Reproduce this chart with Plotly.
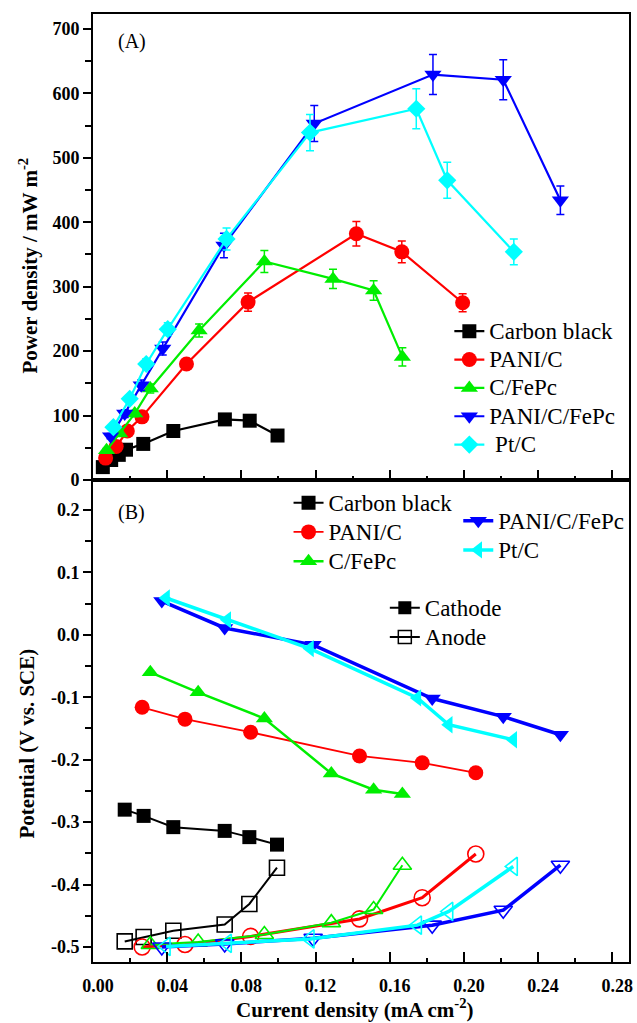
import plotly.graph_objects as go

# ---------------- data: panel A (power density) ----------------
cb_i_A = [0.0053, 0.0098, 0.0139, 0.0178, 0.0271, 0.0433, 0.0711, 0.0845, 0.0995]
cb_p_A = [20, 31, 39, 47, 56, 76, 94, 92, 69]
cb_e_A = [2, 2, 3, 3, 3, 4, 5, 5, 4]

pc_i_A = [0.0068, 0.0125, 0.0185, 0.0264, 0.0504, 0.0836, 0.142, 0.1665, 0.1993]
pc_p_A = [34, 52, 76, 98, 180, 276, 382, 354, 275]
pc_e_A = [3, 4, 5, 6, 8, 14, 19, 17, 14]

cf_i_A = [0.0073, 0.0144, 0.0225, 0.0309, 0.0572, 0.0924, 0.1294, 0.1513, 0.1668]
cf_p_A = [46, 72, 103, 142, 232, 339, 312, 294, 191]
cf_e_A = [3, 4, 5, 7, 10, 17, 15, 15, 14]

pcf_i_A = [0.0095, 0.0171, 0.026, 0.0376, 0.0706, 0.1193, 0.1833, 0.2212, 0.252]
pcf_p_A = [68, 103, 147, 204, 364, 553, 629, 621, 434]
pcf_e_A = [4, 6, 8, 10, 19, 28, 31, 31, 22]

pt_i_A = [0.011, 0.0198, 0.0287, 0.0403, 0.072, 0.117, 0.1743, 0.191, 0.2269]
pt_p_A = [82, 126, 180, 234, 374, 539, 576, 465, 354]
pt_e_A = [4, 6, 8, 10, 17, 28, 31, 28, 20]

# ---------------- data: panel B (electrode potentials) ----------------
cb_i_B = [0.0171, 0.0273, 0.0433, 0.071, 0.0843, 0.0992]
cb_cat = [-0.280, -0.290, -0.308, -0.314, -0.324, -0.336]
cb_an = [-0.491, -0.484, -0.474, -0.464, -0.431, -0.373]

pc_i_B = [0.0265, 0.0496, 0.085, 0.1437, 0.1775, 0.2064]
pc_cat = [-0.116, -0.135, -0.156, -0.194, -0.205, -0.221]
pc_an = [-0.500, -0.496, -0.483, -0.455, -0.421, -0.351]

cf_i_B = [0.0309, 0.0567, 0.0924, 0.1285, 0.1513, 0.1668]
cf_cat = [-0.060, -0.092, -0.134, -0.222, -0.248, -0.255]
cf_an = [-0.496, -0.492, -0.480, -0.461, -0.440, -0.369]

pcf_i_B = [0.0371, 0.071, 0.1187, 0.1829, 0.2212, 0.252]
pcf_cat = [0.054, 0.011, -0.016, -0.102, -0.131, -0.160]
pcf_an = [-0.500, -0.495, -0.486, -0.465, -0.441, -0.369]

pt_i_B = [0.0394, 0.0724, 0.117, 0.1749, 0.1918, 0.2266]
pt_cat = [0.059, 0.024, -0.022, -0.101, -0.144, -0.168]
pt_an = [-0.499, -0.494, -0.487, -0.465, -0.443, -0.371]

names = ["Carbon black", "PANI/C", "C/FePc", "PANI/C/FePc", "Pt/C"]
x_ticks = [0.00, 0.04, 0.08, 0.12, 0.16, 0.20, 0.24, 0.28]
x_ticktext = ["0.00", "0.04", "0.08", "0.12", "0.16", "0.20", "0.24", "0.28"]
yA_ticks = [0, 100, 200, 300, 400, 500, 600, 700]
yB_ticks = [-0.5, -0.4, -0.3, -0.2, -0.1, 0.0, 0.1, 0.2]
yB_ticktext = ["-0.5", "-0.4", "-0.3", "-0.2", "-0.1", "0.0", "0.1", "0.2"]

# ---------------- styling ----------------
colors = ["#000000", "#FF0000", "#00EE00", "#0000FF", "#00FFFF"]
symA = ["square", "circle", "triangle-up", "triangle-down", "diamond"]
sizeA = [14, 15, 15, 15, 14]
symB = ["square", "circle", "triangle-up", "triangle-down", "triangle-left"]
sizeB = [14, 15, 15, 15, 15]
lwB_cat = [2, 1.8, 2.5, 3.5, 3.5]
lwB_an = [2, 3, 2, 3.5, 3.5]
SERIF = "Liberation Serif"
LEG_SPAN = '<span style="font-size:23px">{}</span>'

fig = go.Figure()

A_sets = [(cb_i_A, cb_p_A, cb_e_A), (pc_i_A, pc_p_A, pc_e_A), (cf_i_A, cf_p_A, cf_e_A),
          (pcf_i_A, pcf_p_A, pcf_e_A), (pt_i_A, pt_p_A, pt_e_A)]
legA_names = ["Carbon black", "PANI/C", "C/FePc", "PANI/C/FePc", " Pt/C"]
for k, (xi, yi, ei) in enumerate(A_sets):
    fig.add_trace(go.Scatter(
        x=xi, y=yi, mode="lines+markers", name=LEG_SPAN.format(legA_names[k]),
        line=dict(color=colors[k], width=2.2),
        marker=dict(symbol=symA[k], size=sizeA[k], color=colors[k]),
        error_y=dict(type="data", array=ei, color=colors[k], thickness=1.5, width=4),
        xaxis="x", yaxis="y", legend="legend", showlegend=True))

B_sets = [(cb_i_B, cb_cat, cb_an), (pc_i_B, pc_cat, pc_an), (cf_i_B, cf_cat, cf_an),
          (pcf_i_B, pcf_cat, pcf_an), (pt_i_B, pt_cat, pt_an)]
for k, (xi, yc, ya) in enumerate(B_sets):
    leg = "legend2" if k < 3 else "legend3"
    fig.add_trace(go.Scatter(
        x=xi, y=yc, mode="lines+markers", name=LEG_SPAN.format(names[k]),
        line=dict(color=colors[k], width=lwB_cat[k]),
        marker=dict(symbol=symB[k], size=sizeB[k], color=colors[k]),
        xaxis="x2", yaxis="y2", legend=leg, showlegend=True))
for k, (xi, yc, ya) in enumerate(B_sets):
    fig.add_trace(go.Scatter(
        x=xi, y=ya, mode="lines+markers", name=names[k] + " anode",
        line=dict(color=colors[k], width=lwB_an[k]),
        marker=dict(symbol=symB[k] + "-open", size=sizeB[k] + 1, color=colors[k],
                    line=dict(width=1.6, color=colors[k])),
        xaxis="x2", yaxis="y2", showlegend=False))

# Cathode / Anode key
fig.add_trace(go.Scatter(x=[None], y=[None], mode="lines+markers", name=LEG_SPAN.format("Cathode"),
                         line=dict(color="black", width=2),
                         marker=dict(symbol="square", size=13, color="black"),
                         xaxis="x2", yaxis="y2", legend="legend4"))
fig.add_trace(go.Scatter(x=[None], y=[None], mode="lines+markers", name=LEG_SPAN.format("Anode"),
                         line=dict(color="black", width=2),
                         marker=dict(symbol="square-open", size=13, color="black",
                                     line=dict(width=1.5, color="black")),
                         xaxis="x2", yaxis="y2", legend="legend4"))

L, R, T, B = 93, 4, 14, 61
W, H = 637, 1023
PW, PH = W - L - R, H - T - B
split = (962 - 480) / PH


def px(xp):
    return (xp - L) / PW


def py(yp):
    return (H - B - yp) / PH


tickfont = dict(family=SERIF, size=18, color="black", weight="bold")
common_x = dict(range=[0, 0.289], tickvals=x_ticks, ticktext=x_ticktext, ticks="inside",
                ticklen=10, tickwidth=1.5, tickcolor="black", showline=True, linewidth=2,
                linecolor="black", mirror=True, showgrid=False, zeroline=False,
                minor=dict(ticks="inside", ticklen=4, tickwidth=1.5, tickcolor="black",
                           dtick=0.02, tick0=0, showgrid=False))

leg_common = dict(bgcolor="rgba(0,0,0,0)", borderwidth=0, xanchor="left", yanchor="top",
                  itemclick=False, itemdoubleclick=False, tracegroupgap=0)
legA_font = dict(family=SERIF, size=19.5, color="black")
legB_font = dict(family=SERIF, size=20.2, color="black")

fig.update_layout(
    width=W, height=H, margin=dict(l=L, r=R, t=T, b=B),
    paper_bgcolor="white", plot_bgcolor="white",
    xaxis=dict(domain=[0, 1], anchor="y", showticklabels=False, **common_x),
    yaxis=dict(domain=[split, 1], anchor="x", range=[0, 723], tickvals=yA_ticks,
               ticks="outside", ticklen=8, tickwidth=1.5, tickcolor="black",
               showline=True, linewidth=2, linecolor="black", mirror=True,
               showgrid=False, zeroline=False, tickfont=tickfont,
               minor=dict(ticks="outside", ticklen=6, tickwidth=1.5, tickcolor="black",
                          dtick=50, tick0=0, showgrid=False)),
    xaxis2=dict(domain=[0, 1], anchor="y2", ticklabelstandoff=6, ticklabelshift=5,
                tickfont=tickfont, **common_x),
    yaxis2=dict(domain=[0, split], anchor="x2", range=[-0.524, 0.248], tickvals=yB_ticks,
                ticktext=yB_ticktext, ticks="outside", ticklen=8, tickwidth=1.5,
                tickcolor="black", showline=True, linewidth=2, linecolor="black",
                mirror=True, showgrid=False, zeroline=False, tickfont=tickfont,
                minor=dict(ticks="outside", ticklen=6, tickwidth=1.5, tickcolor="black",
                           dtick=0.05, tick0=0, showgrid=False)),
    legend=dict(x=px(452), y=py(312), font=legA_font, **leg_common),
    legend2=dict(x=px(290), y=py(483), font=legB_font, **leg_common),
    legend3=dict(x=px(461), y=py(501), font=legB_font, **leg_common),
    legend4=dict(x=px(387), y=py(588), font=legB_font, **leg_common),
    showlegend=True,
)

title_font = dict(family=SERIF, size=21, color="black", weight="bold")
fig.add_annotation(text="Power density / mW m<sup>-2</sup>", xref="paper", yref="paper",
                   x=px(28), y=py(265), textangle=-90, showarrow=False, font=title_font,
                   xanchor="center", yanchor="middle")
fig.add_annotation(text="Potential (V vs. SCE)", xref="paper", yref="paper",
                   x=px(27), y=py(743), textangle=-90, showarrow=False, font=title_font,
                   xanchor="center", yanchor="middle")
fig.add_annotation(text="Current density (mA cm<sup>-2</sup>)", xref="paper", yref="paper",
                   x=px(357), y=py(1008), showarrow=False, font=title_font,
                   xanchor="center", yanchor="middle")
fig.add_annotation(text="(A)", xref="paper", yref="paper", x=px(132), y=py(42),
                   showarrow=False, font=dict(family=SERIF, size=20, color="black"),
                   xanchor="center", yanchor="middle")
fig.add_annotation(text="(B)", xref="paper", yref="paper", x=px(132), y=py(512),
                   showarrow=False, font=dict(family=SERIF, size=20, color="black"),
                   xanchor="center", yanchor="middle")

fig.write_html("out.html")
